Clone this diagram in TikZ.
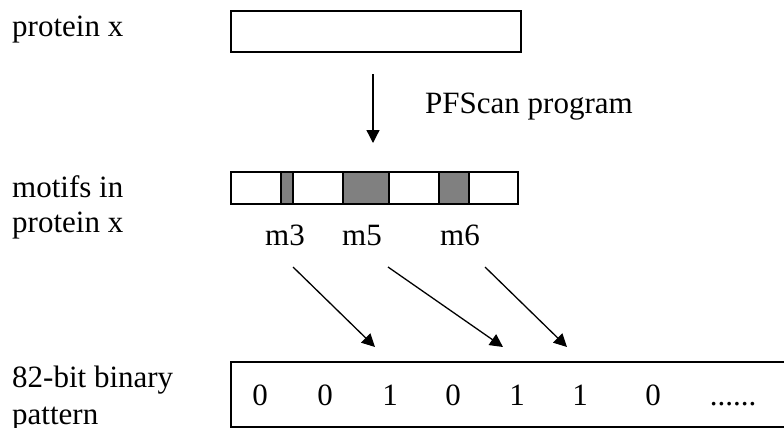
\documentclass[tikz,border=0pt]{standalone}
\usepackage{fontspec}
\setmainfont{Liberation Serif}
\usetikzlibrary{arrows.meta}
\tikzset{
  lbl/.style={anchor=base west, inner sep=0pt, font=\fontsize{31}{36}\selectfont},
  bit/.style={anchor=base, inner sep=0pt, font=\fontsize{31}{36}\selectfont},
  box/.style={line width=1.5pt},
  link/.style={line width=1.3pt, -{Triangle[length=13pt,width=13pt]}}
}
\begin{document}
\begin{tikzpicture}[x=1pt,y=-1pt]
\useasboundingbox (0,0) rectangle (784,428);
\node[lbl] (protA) at (12,37) {protein x};
\draw[box] (231,11) rectangle (521,52);
\coordinate (scanA) at (373,74);
\coordinate (scanB) at (373,143);
\draw[link] (scanA) -- (scanB);
\node[lbl] (pfscan) at (425,113) {PFScan program};
\node[lbl] (motA) at (12,197) {motifs in};
\node[lbl] (motB) at (12,232) {protein x};
\foreach \a/\b/\c in {231/281/white, 281/293/gray, 293/343/white, 343/389/gray, 389/439/white, 439/469/gray, 469/518/white}
  \draw[box, fill=\c] (\a,172) rectangle (\b,204);
\node[bit] (m3) at (285,245) {m3};
\node[bit] (m5) at (362,245) {m5};
\node[bit] (m6) at (460,245) {m6};
\coordinate (fromA) at (293,267);
\coordinate (toA) at (375,347);
\coordinate (fromB) at (388,267);
\coordinate (toB) at (503,347);
\coordinate (fromC) at (485,267);
\coordinate (toC) at (567,347);
\draw[link] (fromA) -- (toA);
\draw[link] (fromB) -- (toB);
\draw[link] (fromC) -- (toC);
\node[lbl] (patA) at (12,387) {82-bit binary};
\node[lbl] (patB) at (12,424) {pattern};
\draw[box] (231,362) rectangle (800,427);
\foreach \x/\b [count=\i] in {260/0, 325/0, 390/1, 453/0, 517/1, 580/1, 653/0}
  \node[bit] (b\i) at (\x,405) {\b};
\node[bit] (more) at (733,405) {......};
\end{tikzpicture}
\end{document}
